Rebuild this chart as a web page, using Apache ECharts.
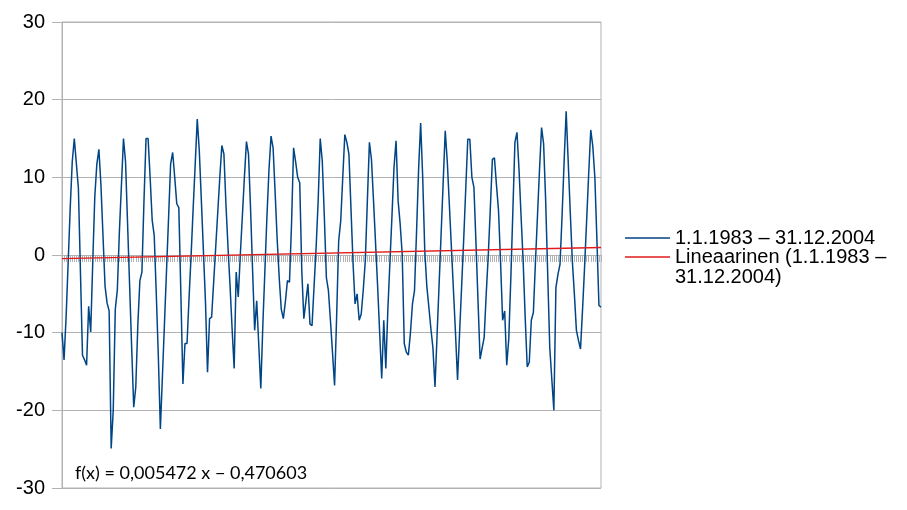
<!DOCTYPE html>
<html>
<head>
<meta charset="utf-8">
<script src="https://cdn.jsdelivr.net/npm/echarts@6/dist/echarts.min.js"></script>
<style>
  html, body { margin: 0; padding: 0; background: #fff; }
  #main { width: 907px; height: 510px; }
</style>
</head>
<body>
<div id="main"></div>
<script>
// kuukausikeskilämpötilat, luettu kuvasta
var y1983 = [-10, -13.5, -8, -1, 6, 12, 15, 11.8, 8.6, -2.2, -12.9, -13.5];
var y1984 = [-14.2, -6.6, -9.9, -1, 7.5, 11.7, 13.6, 9, 2.5, -4, -6.2, -7.2];
var y1985 = [-24.9, -20, -7, -4.5, 3, 9, 15, 12, 4, -4, -12, -19.6];
var y1986 = [-17, -9, -3.3, -2.2, 7, 15, 15, 10, 4.5, 2.5, -5, -13];
var y1987 = [-22.4, -15.6, -8.8, -2, 4.8, 11.7, 13.2, 10, 6.6, 6.1, -5, -16.6];
var y1988 = [-11.4, -11.4, -5.5, 0, 6, 11.7, 17.5, 13.4, 7, 0.5, -6, -15.1];
var y1989 = [-8.2, -8, -3.5, 1, 5.5, 10, 14.1, 13, 6.5, 1, -4, -9.5];
var y1990 = [-14.6, -2.2, -5.4, 0, 5, 10, 14.6, 13, 6, -2, -9.7, -5.9];
var y1991 = [-11.5, -17.2, -9, -2, 5, 11, 15.3, 13.8, 8, 2, -3, -7];
var y1992 = [-8.2, -6, -3.3, -3.5, 4, 13.8, 12, 10, 9.3, -2, -8.2, -6];
var y1993 = [-3.7, -8.9, -9.1, -4, 1, 7, 15, 12.1, 5, -2.9, -4.6, -8.5];
var y1994 = [-12.6, -16.8, -8, 1.8, 4.4, 10, 15.5, 14.5, 13, 6, -1, -6.3];
var y1995 = [-5, -8.4, -7.6, -4.5, -0.7, 7, 14.5, 12.3, 7, 1.5, -4, -10];
var y1996 = [-15.9, -8.4, -14.6, -7, -1, 5, 11.3, 14.7, 7, 4, 0.1, -11.4];
var y1997 = [-12.5, -12.9, -10.1, -6.3, -4.6, 3, 11, 17, 10, 0.6, -4, -6.7];
var y1998 = [-9.5, -12, -17, -10.4, -3.8, 2.8, 9.4, 16, 12, 6.5, 1, -4.5];
var y1999 = [-10, -16.1, -10, -4, 2, 8.5, 14.9, 14.9, 10, 8.7, 1.5, -6];
var y2000 = [-13.4, -12, -10.6, -5, 0, 6, 12.3, 12.5, 9, 5.7, -1, -8.4];
var y2001 = [-7.2, -14.2, -10.8, -3, 5.7, 14.5, 15.8, 11, 5, -0.7, -8, -14.4];
var y2002 = [-13.8, -8.4, -7.4, -1, 5, 11, 16.4, 14.3, 7, -2.5, -11.9, -16];
var y2003 = [-20, -4.2, -2.5, -1.2, 5, 12, 18.5, 12, 5.5, -0.7, -5, -9.7];
var y2004 = [-11, -12.1, -7, -1.5, 4.5, 10.5, 16.1, 14, 10, 2, -6.5, -6.7];

// trendiviivan päätepisteet (alku, loppu)
var trendEnds = [-0.465, 0.974];
var yTicks = [-30, 30, 10];

var seriesName = '1.1.1983 – 31.12.2004';
var trendName = 'Lineaarinen (1.1.1983 –\n31.12.2004)';
var formulaText = 'f(x) = 0,005472 x − 0,470603';

var temps = [].concat(y1983, y1984, y1985, y1986, y1987, y1988, y1989, y1990,
  y1991, y1992, y1993, y1994, y1995, y1996, y1997, y1998, y1999, y2000,
  y2001, y2002, y2003, y2004);

var categories = [];
for (var y = 1983; y <= 2004; y++) {
  for (var m = 1; m <= 12; m++) categories.push(m + '/' + y);
}
var trend = categories.map(function (c, i) {
  if (i === 0) return trendEnds[0];
  if (i === categories.length - 1) return trendEnds[1];
  return '-';
});

var gray = '#b3b3b3';
var font = '"Liberation Sans", Arial, sans-serif';

var myChart = echarts.init(document.getElementById('main'));
myChart.setOption({
  animation: false,
  title: {
    text: formulaText,
    left: 70,
    top: 459,
    textStyle: { fontFamily: 'Lato', fontWeight: 'normal', fontSize: 18, color: '#000' }
  },
  legend: [{
    data: [seriesName],
    orient: 'vertical',
    left: 620,
    top: 223,
    icon: 'rect',
    itemWidth: 45,
    itemHeight: 1.4,
    textStyle: { fontFamily: font, fontSize: 20, color: '#000' }
  }, {
    data: [trendName],
    orient: 'vertical',
    left: 620,
    top: 222,
    icon: 'rect',
    itemWidth: 45,
    itemHeight: 1.4,
    // tyhjä rivi yläpuolelle, jotta viiva osuu ensimmäisen rivin kohdalle
    formatter: function (name) { return ' \n' + name; },
    textStyle: { fontFamily: font, fontSize: 20, color: '#000', lineHeight: 20 }
  }],
  grid: {
    left: 62, right: 306, top: 22, bottom: 22,
    show: true, borderColor: gray, borderWidth: 1
  },
  xAxis: {
    type: 'category',
    data: categories,
    boundaryGap: false,
    axisLine: { onZero: true, lineStyle: { color: gray } },
    axisTick: { show: true, interval: 0, length: 7, inside: false, lineStyle: { color: gray, width: 1 } },
    axisLabel: { show: false },
    splitLine: { show: false }
  },
  yAxis: {
    type: 'value',
    min: yTicks[0],
    max: yTicks[1],
    interval: yTicks[2],
    axisLine: { show: true, lineStyle: { color: gray } },
    axisTick: { show: true, length: 10, lineStyle: { color: gray } },
    axisLabel: { margin: 17, fontFamily: font, fontSize: 20, color: '#000' },
    splitLine: { show: true, lineStyle: { color: gray, width: 1 } }
  },
  series: [{
    name: seriesName,
    type: 'line',
    data: temps,
    showSymbol: false,
    symbol: 'none',
    lineStyle: { color: '#004586', width: 1.5 },
    itemStyle: { color: '#004586' },
    z: 2
  }, {
    name: trendName,
    type: 'line',
    data: trend,
    connectNulls: true,
    showSymbol: false,
    symbol: 'none',
    lineStyle: { color: '#e01b1b', width: 1.4 },
    itemStyle: { color: '#e01b1b' },
    z: 3
  }]
});
</script>
</body>
</html>
